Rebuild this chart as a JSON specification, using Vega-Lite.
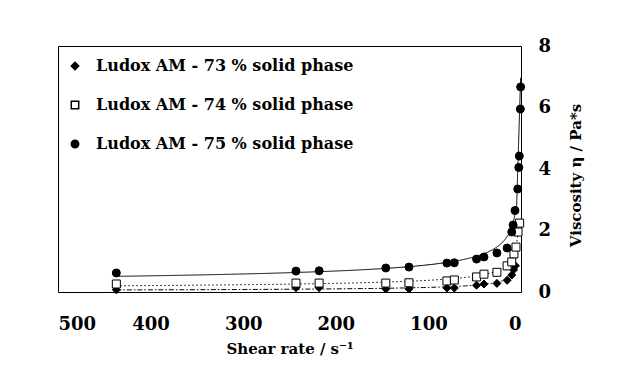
{
  "$schema": "https://vega.github.io/schema/vega-lite/v6.json",
  "width": 463,
  "height": 246,
  "autosize": {"type": "none"},
  "padding": {"left": 58, "top": 46, "right": 98, "bottom": 93},
  "background": "white",
  "config": {
    "view": {"stroke": "black", "strokeWidth": 1},
    "font": "DejaVu Serif",
    "axis": {
      "labelFont": "DejaVu Serif",
      "titleFont": "DejaVu Serif",
      "labelFontWeight": "bold",
      "titleFontWeight": "bold",
      "labelColor": "black",
      "titleColor": "black",
      "grid": false,
      "ticks": false,
      "tickSize": 0,
      "domain": false,
      "labelFontSize": 18,
      "titleFontSize": 15
    },
    "legend": {
      "labelFont": "DejaVu Serif",
      "labelFontSize": 16,
      "labelFontWeight": "bold",
      "labelColor": "black"
    }
  },
  "data": {
    "values": [
      {"series": "Ludox AM - 73 % solid phase", "rate": 437, "visc": 0.07},
      {"series": "Ludox AM - 73 % solid phase", "rate": 243, "visc": 0.14},
      {"series": "Ludox AM - 73 % solid phase", "rate": 218, "visc": 0.14},
      {"series": "Ludox AM - 73 % solid phase", "rate": 146, "visc": 0.1},
      {"series": "Ludox AM - 73 % solid phase", "rate": 121, "visc": 0.1},
      {"series": "Ludox AM - 73 % solid phase", "rate": 80, "visc": 0.13},
      {"series": "Ludox AM - 73 % solid phase", "rate": 72, "visc": 0.13},
      {"series": "Ludox AM - 73 % solid phase", "rate": 48, "visc": 0.22},
      {"series": "Ludox AM - 73 % solid phase", "rate": 40, "visc": 0.26},
      {"series": "Ludox AM - 73 % solid phase", "rate": 26, "visc": 0.28},
      {"series": "Ludox AM - 73 % solid phase", "rate": 15, "visc": 0.38},
      {"series": "Ludox AM - 73 % solid phase", "rate": 10, "visc": 0.55},
      {"series": "Ludox AM - 73 % solid phase", "rate": 8, "visc": 0.72},
      {"series": "Ludox AM - 73 % solid phase", "rate": 6, "visc": 0.85},
      {"series": "Ludox AM - 74 % solid phase", "rate": 437, "visc": 0.26},
      {"series": "Ludox AM - 74 % solid phase", "rate": 243, "visc": 0.29},
      {"series": "Ludox AM - 74 % solid phase", "rate": 218, "visc": 0.29},
      {"series": "Ludox AM - 74 % solid phase", "rate": 146, "visc": 0.29},
      {"series": "Ludox AM - 74 % solid phase", "rate": 121, "visc": 0.3},
      {"series": "Ludox AM - 74 % solid phase", "rate": 80, "visc": 0.36},
      {"series": "Ludox AM - 74 % solid phase", "rate": 72, "visc": 0.39},
      {"series": "Ludox AM - 74 % solid phase", "rate": 48, "visc": 0.49},
      {"series": "Ludox AM - 74 % solid phase", "rate": 40, "visc": 0.58},
      {"series": "Ludox AM - 74 % solid phase", "rate": 26, "visc": 0.64},
      {"series": "Ludox AM - 74 % solid phase", "rate": 15, "visc": 0.85},
      {"series": "Ludox AM - 74 % solid phase", "rate": 10, "visc": 0.98},
      {"series": "Ludox AM - 74 % solid phase", "rate": 7.6, "visc": 1.24},
      {"series": "Ludox AM - 74 % solid phase", "rate": 5.4, "visc": 1.46},
      {"series": "Ludox AM - 74 % solid phase", "rate": 3.2, "visc": 1.95},
      {"series": "Ludox AM - 74 % solid phase", "rate": 1.5, "visc": 2.24},
      {"series": "Ludox AM - 75 % solid phase", "rate": 437, "visc": 0.62},
      {"series": "Ludox AM - 75 % solid phase", "rate": 243, "visc": 0.68},
      {"series": "Ludox AM - 75 % solid phase", "rate": 218, "visc": 0.69},
      {"series": "Ludox AM - 75 % solid phase", "rate": 146, "visc": 0.78},
      {"series": "Ludox AM - 75 % solid phase", "rate": 121, "visc": 0.81},
      {"series": "Ludox AM - 75 % solid phase", "rate": 80, "visc": 0.94},
      {"series": "Ludox AM - 75 % solid phase", "rate": 72, "visc": 0.95},
      {"series": "Ludox AM - 75 % solid phase", "rate": 48, "visc": 1.07},
      {"series": "Ludox AM - 75 % solid phase", "rate": 40, "visc": 1.14},
      {"series": "Ludox AM - 75 % solid phase", "rate": 26, "visc": 1.27},
      {"series": "Ludox AM - 75 % solid phase", "rate": 15, "visc": 1.43},
      {"series": "Ludox AM - 75 % solid phase", "rate": 10, "visc": 1.95},
      {"series": "Ludox AM - 75 % solid phase", "rate": 8.5, "visc": 2.18},
      {"series": "Ludox AM - 75 % solid phase", "rate": 6.5, "visc": 2.65},
      {"series": "Ludox AM - 75 % solid phase", "rate": 3.5, "visc": 3.35},
      {"series": "Ludox AM - 75 % solid phase", "rate": 2.4, "visc": 4.05},
      {"series": "Ludox AM - 75 % solid phase", "rate": 1.8, "visc": 4.42},
      {"series": "Ludox AM - 75 % solid phase", "rate": 0.7, "visc": 5.95},
      {"series": "Ludox AM - 75 % solid phase", "rate": 0.4, "visc": 6.67}
    ]
  },
  "layer": [
    {
      "transform": [{"regression": "visc", "on": "rate", "method": "pow", "groupby": ["series"]}],
      "mark": {"type": "line", "color": "black", "strokeWidth": 1, "clip": true},
      "encoding": {
        "x": {"field": "rate", "type": "quantitative", "scale": {"domain": [0, 500], "reverse": true, "nice": false}},
        "y": {"field": "visc", "type": "quantitative", "scale": {"domain": [0, 8], "nice": false}},
        "strokeDash": {
          "field": "series",
          "type": "nominal",
          "scale": {"range": [[5, 2, 1.5, 2], [1.5, 2.5], [1, 0]]},
          "legend": null
        }
      }
    },
    {
      "mark": {"type": "point", "filled": true, "stroke": "black", "strokeWidth": 1, "opacity": 1, "size": 64},
      "encoding": {
        "x": {
          "field": "rate",
          "type": "quantitative",
          "scale": {"domain": [0, 500], "reverse": true, "nice": false},
          "axis": {
            "values": [0, 100, 200, 300, 400, 500],
            "format": "d",
            "labelPadding": 23,
            "title": "Shear rate / s⁻¹",
            "titleY": 61,
            "titleBaseline": "alphabetic"
          }
        },
        "y": {
          "field": "visc",
          "type": "quantitative",
          "scale": {"domain": [0, 8], "nice": false},
          "axis": {
            "orient": "right",
            "values": [0, 2, 4, 6, 8],
            "format": "d",
            "labelPadding": 17,
            "title": "Viscosity η / Pa*s",
            "titleAngle": 270,
            "titleX": 54,
            "titleY": 129,
            "titleAlign": "center",
            "titleBaseline": "middle"
          }
        },
        "shape": {
          "field": "series",
          "type": "nominal",
          "scale": {"range": ["diamond", "square", "circle"]},
          "legend": {
            "orient": "none",
            "legendX": 9,
            "legendY": 12,
            "title": null,
            "padding": 0,
            "labelOffset": 13,
            "symbolSize": 55,
            "rowPadding": 23,
            "labelLimit": 400,
            "encode": {"symbols": {"update": {"stroke": {"value": "black"}, "strokeWidth": {"value": 1}}}}
          }
        },
        "fill": {
          "field": "series",
          "type": "nominal",
          "scale": {"range": ["black", "white", "black"]},
          "legend": {
            "orient": "none",
            "legendX": 9,
            "legendY": 12,
            "title": null,
            "padding": 0,
            "labelOffset": 13,
            "symbolSize": 55,
            "rowPadding": 23,
            "labelLimit": 400,
            "encode": {"symbols": {"update": {"stroke": {"value": "black"}, "strokeWidth": {"value": 1}}}}
          }
        }
      }
    }
  ]
}
